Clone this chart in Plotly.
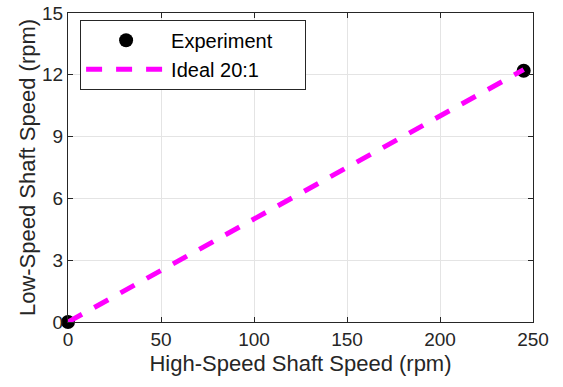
import plotly.graph_objects as go

exp_x = [0, 245]
exp_y = [0, 12.2]
ideal_x = [0, 245]
ideal_y = [0, 12.25]
x_ticks = [0, 50, 100, 150, 200, 250]
y_ticks = [0, 3, 6, 9, 12, 15]
names = ["Experiment", "Ideal 20:1"]

FONT = "Liberation Sans, Arial, Helvetica"
INK = "#262626"
PAD = "\u00a0" * 5  # widens the legend box to match the reference

fig = go.Figure()
fig.add_trace(go.Scatter(x=exp_x, y=exp_y, mode="markers", name=names[0] + PAD,
                         marker=dict(color="black", size=14), cliponaxis=False))
fig.add_trace(go.Scatter(x=ideal_x, y=ideal_y, mode="lines", name=names[1],
                         line=dict(color="#ff00ff", width=5, dash="16px,14px"), cliponaxis=False))

axis_common = dict(showline=True, linecolor=INK, linewidth=1.2, mirror="ticks",
                   ticks="inside", ticklen=5, tickcolor=INK, automargin=False,
                   showgrid=True, gridcolor="#e4e4e4", gridwidth=1, zeroline=False,
                   tickfont=dict(family=FONT, size=19, color=INK))

fig.update_xaxes(range=[0, 250], tickvals=x_ticks,
                 title=dict(text="High-Speed Shaft Speed (rpm)", standoff=6,
                            font=dict(family=FONT, size=22, color=INK)),
                 **axis_common)
fig.update_yaxes(range=[0, 15], tickvals=y_ticks,
                 title=dict(text="Low-Speed Shaft Speed (rpm)", standoff=0,
                            font=dict(family=FONT, size=22, color=INK)),
                 **axis_common)

fig.update_layout(width=563, height=387, margin=dict(l=68, r=30, t=13, b=65),
                  plot_bgcolor="white", paper_bgcolor="white",
                  legend=dict(x=0.026, y=0.978, xanchor="left", yanchor="top",
                              bgcolor="white", bordercolor=INK, borderwidth=1,
                              font=dict(family=FONT, size=20, color="black"),
                              itemwidth=80, tracegroupgap=0),
                  showlegend=True)

fig.write_html("out.html", config={"displayModeBar": False},
               post_script="document.body.style.margin='0';document.body.style.overflow='hidden';")
